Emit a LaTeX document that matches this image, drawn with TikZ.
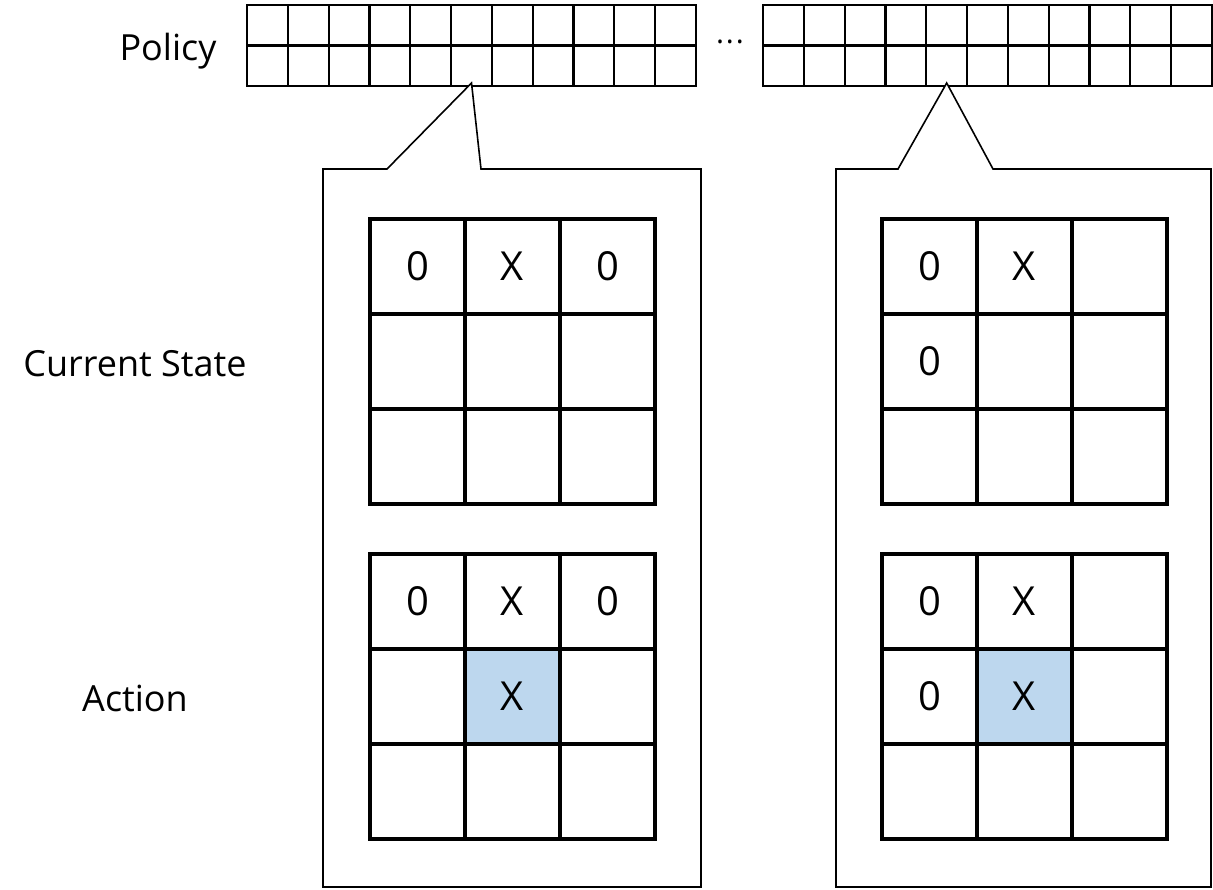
\documentclass[tikz,border=0pt]{standalone}
\usepackage{fontspec}
\setmainfont{Open Sans}
\begin{document}
\begin{tikzpicture}[x=1pt,y=-1pt,
  lbl/.style={font=\fontsize{36}{40}\selectfont, inner sep=0pt, anchor=base},
  pcell/.style={draw, line width=2.2pt, minimum width=40.82pt, minimum height=40.5pt, inner sep=0pt, outer sep=0pt},
  bcell/.style={draw, line width=4pt, minimum size=95pt, inner sep=0pt, outer sep=0pt, font=\fontsize{40}{42}\selectfont},
  hit/.style={bcell, fill=actblue},
  callout/.style={draw, line width=1.6pt, fill=white, line join=miter}
]
\definecolor{actblue}{HTML}{BDD7EE}
\useasboundingbox (0,0) rectangle (1213,889);

% policy strips
\foreach \c in {1,...,11}{
  \node[pcell] (P1-\c-1) at ({247+(\c-0.5)*40.82},25.25) {};
  \node[pcell] (P1-\c-2) at ({247+(\c-0.5)*40.82},65.75) {};
  \node[pcell] (P2-\c-1) at ({763+(\c-0.5)*40.82},25.25) {};
  \node[pcell] (P2-\c-2) at ({763+(\c-0.5)*40.82},65.75) {};
}
\node[font=\fontsize{30}{36}\selectfont, inner sep=0pt] (dots) at (730,46) {·\hspace{2pt}·\hspace{2pt}·};

\node[lbl] (policy) at (168,60) {Policy};
\node[lbl] (state) at (135,376) {Current State};
\node[lbl] (action) at (135,711) {Action};

% callouts
\coordinate (tipL) at ([yshift=3pt]P1-6-2.south);
\coordinate (tipR) at ([yshift=3pt]P2-5-2.south);
\draw[callout] (323,169) -- (387,169) -- (tipL) -- (481,169) -- (701,169) -- (701,887) -- (323,887) -- cycle;
\draw[callout] (836,169) -- (898,169) -- (tipR) -- (993,169) -- (1211,169) -- (1211,887) -- (836,887) -- cycle;

% left state board
\node[bcell] (LS-1-1) at (417.5,266.5) {0};
\node[bcell] (LS-1-2) at (512.5,266.5) {X};
\node[bcell] (LS-1-3) at (607.5,266.5) {0};
\node[bcell] (LS-2-1) at (417.5,361.5) {};
\node[bcell] (LS-2-2) at (512.5,361.5) {};
\node[bcell] (LS-2-3) at (607.5,361.5) {};
\node[bcell] (LS-3-1) at (417.5,456.5) {};
\node[bcell] (LS-3-2) at (512.5,456.5) {};
\node[bcell] (LS-3-3) at (607.5,456.5) {};

% left action board
\node[bcell] (LA-1-1) at (417.5,601.5) {0};
\node[bcell] (LA-1-2) at (512.5,601.5) {X};
\node[bcell] (LA-1-3) at (607.5,601.5) {0};
\node[bcell] (LA-2-1) at (417.5,696.5) {};
\node[hit]   (LA-2-2) at (512.5,696.5) {X};
\node[bcell] (LA-2-3) at (607.5,696.5) {};
\node[bcell] (LA-3-1) at (417.5,791.5) {};
\node[bcell] (LA-3-2) at (512.5,791.5) {};
\node[bcell] (LA-3-3) at (607.5,791.5) {};

% right state board
\node[bcell] (RS-1-1) at (929.5,266.5) {0};
\node[bcell] (RS-1-2) at (1024.5,266.5) {X};
\node[bcell] (RS-1-3) at (1119.5,266.5) {};
\node[bcell] (RS-2-1) at (929.5,361.5) {0};
\node[bcell] (RS-2-2) at (1024.5,361.5) {};
\node[bcell] (RS-2-3) at (1119.5,361.5) {};
\node[bcell] (RS-3-1) at (929.5,456.5) {};
\node[bcell] (RS-3-2) at (1024.5,456.5) {};
\node[bcell] (RS-3-3) at (1119.5,456.5) {};

% right action board
\node[bcell] (RA-1-1) at (929.5,601.5) {0};
\node[bcell] (RA-1-2) at (1024.5,601.5) {X};
\node[bcell] (RA-1-3) at (1119.5,601.5) {};
\node[bcell] (RA-2-1) at (929.5,696.5) {0};
\node[hit]   (RA-2-2) at (1024.5,696.5) {X};
\node[bcell] (RA-2-3) at (1119.5,696.5) {};
\node[bcell] (RA-3-1) at (929.5,791.5) {};
\node[bcell] (RA-3-2) at (1024.5,791.5) {};
\node[bcell] (RA-3-3) at (1119.5,791.5) {};
\end{tikzpicture}
\end{document}
